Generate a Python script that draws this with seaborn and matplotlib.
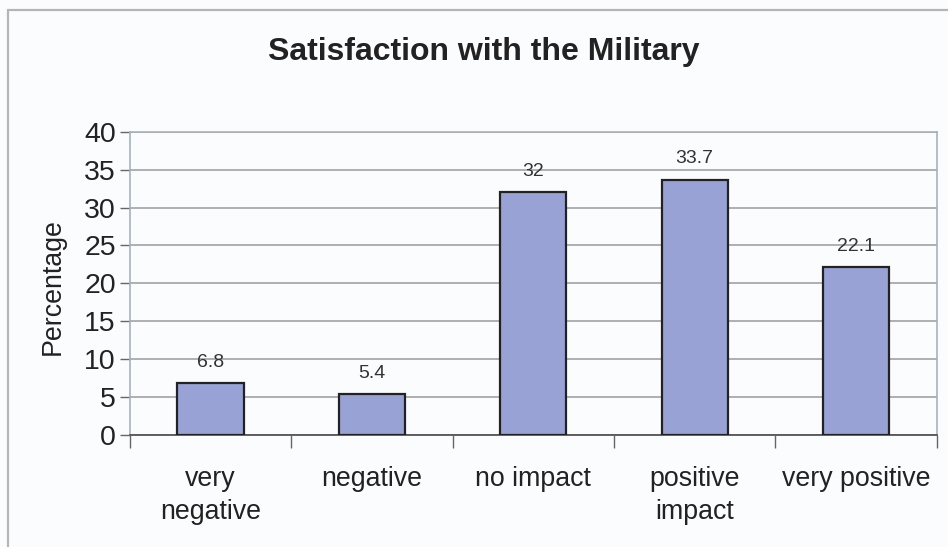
import matplotlib
matplotlib.use("Agg")
import matplotlib.pyplot as plt
from matplotlib.lines import Line2D
from matplotlib.ticker import MultipleLocator, FixedLocator
import seaborn as sns
import pandas as pd

categories = ["very\nnegative", "negative", "no impact", "positive\nimpact", "very positive"]
values = [6.8, 5.4, 32, 33.7, 22.1]
value_labels = ["6.8", "5.4", "32", "33.7", "22.1"]
title = "Satisfaction with the Military"
ylabel = "Percentage"

sns.set_theme(style="white")
plt.rcParams["font.family"] = ["Liberation Sans", "DejaVu Sans"]

bg = "#FBFCFE"
fig = plt.figure(figsize=(9.48, 5.47), dpi=100, facecolor=bg)
ax = fig.add_axes([0.137, 0.205, 0.851, 0.554])
ax.set_facecolor(bg)

df = pd.DataFrame({"cat": categories, "val": values})
sns.barplot(data=df, x="cat", y="val", color="#98A2D5", saturation=1,
            width=0.41, edgecolor="#222222", linewidth=1.6, ax=ax, zorder=3)

ax.set_xlim(-0.5, len(categories) - 0.5)
ax.set_ylim(0, 40)
ax.yaxis.set_major_locator(MultipleLocator(5))
ax.grid(axis="y", color="#A3A3A3", linewidth=1.2, zorder=0)
ax.grid(axis="x", visible=False)

# category boundary tick marks on the x axis
ax.xaxis.set_minor_locator(FixedLocator([i - 0.5 for i in range(len(categories) + 1)]))
ax.tick_params(axis="x", which="major", length=0, pad=22.5, labelsize=19.3, colors="#222222")
ax.tick_params(axis="x", which="minor", bottom=True, length=9, width=1, color="#666666", direction="out")
ax.tick_params(axis="y", which="major", left=True, length=7, width=1, color="#666666",
               direction="out", labelsize=20.5, colors="#222222", pad=3)
for lbl in ax.get_xticklabels():
    lbl.set_linespacing(1.32)
    lbl.set_verticalalignment("top")

for side in ["top", "right", "left"]:
    ax.spines[side].set_color("#A4B2BE")
    ax.spines[side].set_linewidth(1.2)
ax.spines["bottom"].set_color("#555555")
ax.spines["bottom"].set_linewidth(1.3)

ax.set_xlabel("")
ax.set_ylabel(ylabel, fontsize=19.3, color="#222222")
ax.yaxis.set_label_coords(-0.079, 0.49)

for i, (v, t) in enumerate(zip(values, value_labels)):
    ax.annotate(t, (i, v), xytext=(0, 15), textcoords="offset points",
                ha="center", va="center", fontsize=14, color="#333333")

fig.text(0.51, 0.905, title, ha="center", va="center", fontsize=23,
         fontweight="bold", color="#222222")

# outer chart frame (top and left edges)
fig.add_artist(Line2D([8 / 948, 1.0], [1 - 10 / 547, 1 - 10 / 547],
                      transform=fig.transFigure, color="#B5B5B5", linewidth=1.6))
fig.add_artist(Line2D([8 / 948, 8 / 948], [0, 1 - 10 / 547],
                      transform=fig.transFigure, color="#B5B5B5", linewidth=1.6))

fig.savefig("out.png", dpi=100, facecolor=bg)
